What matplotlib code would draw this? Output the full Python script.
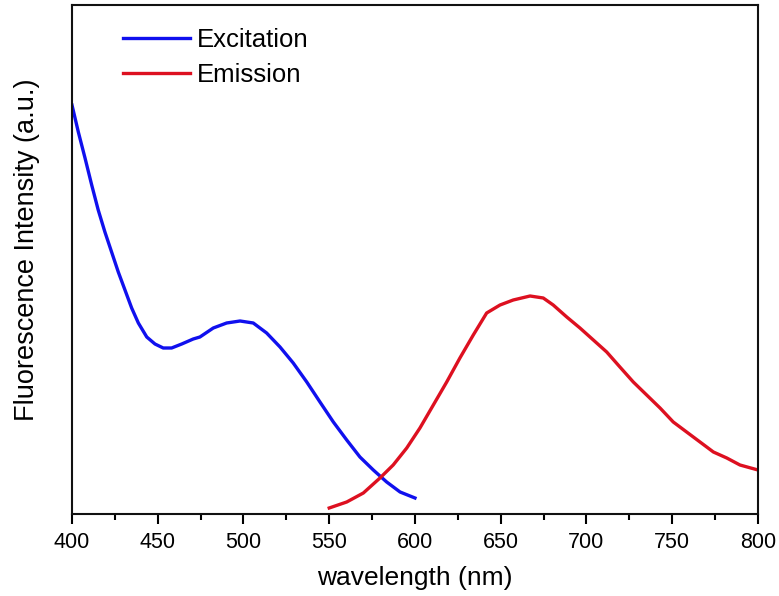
import numpy as np
import matplotlib
matplotlib.use("Agg")
import matplotlib.pyplot as plt
from matplotlib.ticker import MultipleLocator

plt.rcParams["font.family"] = ["Liberation Sans", "DejaVu Sans"]

# excitation spectrum (arbitrary units)
exc_wl = [400.0, 403.7, 407.6, 411.5, 415.3, 419.2, 423.1, 427.0, 430.9, 434.8,
          438.7, 443.6, 448.4, 453.2, 458.1, 464.0, 470.7, 474.6, 482.4, 490.2,
          498.0, 505.7, 513.5, 521.3, 529.0, 536.9, 544.6, 552.4, 560.2, 567.9,
          575.7, 583.5, 591.3, 600.0]
exc_int = [409, 382, 356, 329, 304, 282, 262, 242, 224, 206,
           191, 177, 170, 166, 166, 170, 175, 177, 186, 191,
           193, 191, 181, 167, 151, 132, 112, 92, 74, 57,
           44, 32, 22, 16]

# emission spectrum
emi_wl = [550.0, 560.2, 569.9, 579.6, 587.3, 595.2, 602.9, 610.7, 618.5, 626.2,
          634.0, 641.8, 649.6, 657.3, 667.1, 674.8, 680.6, 688.5, 696.2, 704.0,
          711.8, 719.5, 727.3, 735.1, 742.9, 750.6, 758.4, 766.2, 774.0, 781.8,
          789.5, 800.0]
emi_int = [6, 12, 21, 36, 49, 66, 86, 109, 132, 156,
           179, 201, 209, 214, 218, 216, 209, 197, 186, 174,
           162, 147, 132, 119, 106, 92, 82, 72, 62, 56,
           49, 44]

fig = plt.figure(figsize=(7.79, 5.96), dpi=100)
ax = fig.add_axes([0.0924, 0.1376, 0.8806, 0.854])

ax.plot(exc_wl, exc_int, color="#1010ee", lw=2.4, label="Excitation")
ax.plot(emi_wl, emi_int, color="#dd1020", lw=2.4, label="Emission")

ax.set_xlim(400, 800)
ax.set_ylim(0, 509)
ax.xaxis.set_major_locator(MultipleLocator(50))
ax.xaxis.set_minor_locator(MultipleLocator(25))
ax.tick_params(axis="x", which="major", direction="out", length=7, width=1.5,
               labelsize=15.5, pad=6)
ax.tick_params(axis="x", which="minor", direction="out", length=4.5, width=1.5)
ax.set_yticks([])
for s in ax.spines.values():
    s.set_linewidth(1.5)
    s.set_color("#111111")

ax.set_xlabel("wavelength (nm)", fontsize=19, labelpad=9)
ax.set_ylabel("Fluorescence Intensity (a.u.)", fontsize=19.5)
ax.yaxis.set_label_coords(-0.047, 0.52)

ax.legend(loc="upper left", bbox_to_anchor=(0.074, 0.955), frameon=False,
          fontsize=18.5, handlelength=2.6, handletextpad=0.3, labelspacing=0.45,
          borderpad=0, borderaxespad=0)

fig.savefig("out.png", dpi=100)
